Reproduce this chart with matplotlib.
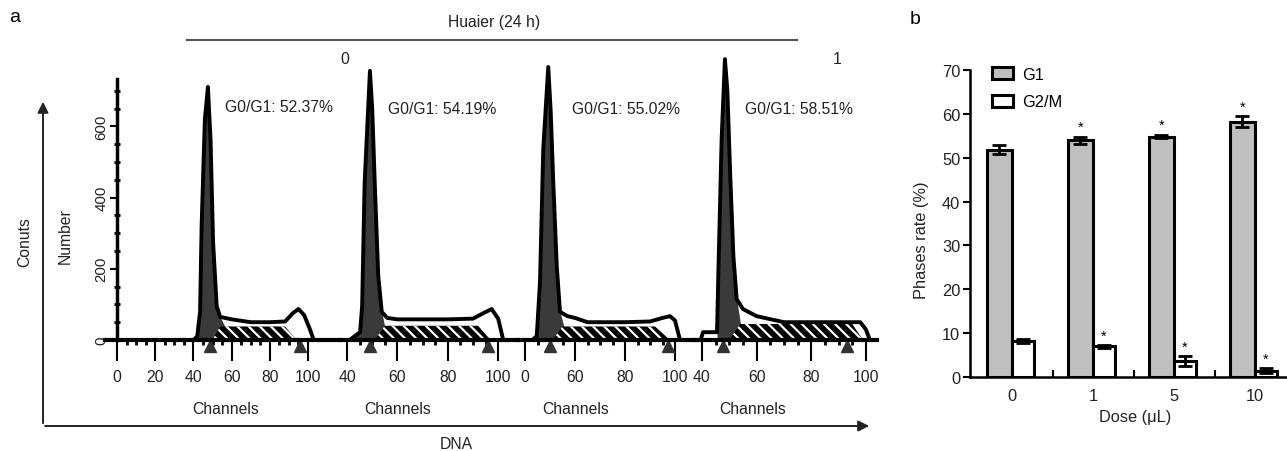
import matplotlib
matplotlib.use('Agg')
import matplotlib.pyplot as plt
import numpy as np

plt.rcParams['font.family'] = ['Liberation Sans', 'DejaVu Sans']
plt.rcParams['hatch.linewidth'] = 1.6

# ---- panel a: DNA histograms (channel, count) ----
hist_channels = [
    [-5, 40, 42, 43.5, 44.3, 46.0, 47.6, 49.0, 50.3, 52.2, 54, 60, 70, 80, 88, 92, 95, 98, 101, 103, 116],
    [37, 41, 45.2, 46.0, 47.0, 49.1, 50.0, 51.1, 52.4, 53.8, 56, 60, 70, 80, 90, 94, 97.4, 100, 102, 108],
    [37, 43, 44.7, 46.0, 47.3, 49.3, 50.3, 51.3, 52.7, 54, 57, 60, 65, 80, 90, 95, 98, 100, 102, 108],
    [37, 39.5, 40.4, 45.5, 46.0, 47.2, 48.4, 49.3, 50.3, 51.5, 52.7, 55, 60, 70, 80, 90, 98, 100, 101.5, 104],
]
hist_counts = [
    [0, 0, 10, 80, 320, 620, 711, 560, 275, 95, 65, 58, 50, 50, 52, 75, 87, 70, 30, 0, 0],
    [0, 0, 22, 95, 443, 756, 650, 424, 180, 79, 62, 58, 58, 58, 60, 75, 87, 60, 0, 0],
    [0, 0, 11, 163, 537, 767, 640, 444, 208, 79, 67, 62, 50, 50, 52, 62, 67, 55, 0, 0],
    [0, 0, 22, 22, 190, 565, 789, 700, 472, 236, 115, 87, 67, 50, 50, 50, 50, 30, 0, 0],
]
# S-phase (hatched) component
s_channels = [
    [50, 54, 88, 94],
    [51, 55, 92, 97],
    [51, 55, 92, 98],
    [50, 54, 95, 99],
]
s_counts = [
    [0, 38, 38, 0],
    [0, 40, 40, 0],
    [0, 38, 38, 0],
    [0, 45, 45, 0],
]
g1_marks = [48.7, 49.1, 50.0, 47.7]
g2_marks = [95.8, 96.0, 97.0, 93.0]
g1_labels = ['G0/G1: 52.37%', 'G0/G1: 54.19%', 'G0/G1: 55.02%', 'G0/G1: 58.51%']
hist_ticks = [[0, 20, 40, 60, 80, 100], [40, 60, 80, 100], [40, 60, 80, 100], [40, 60, 80, 100]]
hist_ticklabels = [['0', '20', '40', '60', '80', '100'], ['40', '60', '80', '100'],
                   ['0', '60', '80', '100'], ['40', '60', '80', '100']]
count_ticks = [0, 200, 400, 600]

# ---- panel b: phase rates ----
doses = ['0', '1', '5', '10']
g1_rate = [51.8, 54.0, 54.8, 58.2]
g1_err = [1.0, 0.8, 0.4, 1.2]
g2_rate = [8.2, 7.0, 3.7, 1.4]
g2_err = [0.5, 0.3, 1.1, 0.6]
g1_star = [False, True, True, True]
g2_star = [False, True, True, True]

W, H = 1287, 452
FS = 11.3
TXT = '#222'
fig = plt.figure(figsize=(W / 100, H / 100), dpi=100)


def px_rect(x0, y0, x1, y1):
    return [x0 / W, 1 - y1 / H, (x1 - x0) / W, (y1 - y0) / H]


# overlay for frame arrows and free text
ov = fig.add_axes([0, 0, 1, 1])
ov.set_xlim(0, W)
ov.set_ylim(H, 0)
ov.axis('off')
ov.set_facecolor('none')
ov.annotate('', xy=(43, 100), xytext=(43, 427),
            arrowprops=dict(arrowstyle='-|>', lw=1.4, color='#222', mutation_scale=16))
ov.annotate('', xy=(872, 427), xytext=(42.3, 427),
            arrowprops=dict(arrowstyle='-|>', lw=1.4, color='#222', mutation_scale=16))
ov.plot([187, 797], [41, 41], color='#555', lw=1.5)
ov.text(15, 18, 'a', fontsize=14, ha='center', va='center')
ov.text(915, 20, 'b', fontsize=14, ha='center', va='center')
ov.text(494, 22, 'Huaier (24 h)', fontsize=FS, ha='center', va='center', color=TXT)
ov.text(345, 60, '0', fontsize=FS, ha='center', va='center', color=TXT)
ov.text(837, 60, '1', fontsize=FS, ha='center', va='center', color=TXT)
ov.text(25, 242, 'Conuts', fontsize=FS, rotation=90, ha='center', va='center', color=TXT)
ov.text(65, 236, 'Number', fontsize=FS, rotation=90, ha='center', va='center', color=TXT)
ov.text(456, 445, 'DNA', fontsize=FS, ha='center', va='center', color=TXT)

# histogram panels: pixel extents and channel limits
panel_px = [(105, 340), (340, 518), (518, 695), (695, 877)]
panel_xlim = [(-6.28, 116.75), (37.22, 107.86), (37.2, 108.0), (37.44, 104.1)]
label_x = [225, 388, 572, 745]
label_y = [108, 110, 110, 110]
channels_x = [226, 398, 576, 753]
Y0, SCALE = 341, 0.356
YMAX = 800

for i in range(4):
    x0, x1 = panel_px[i]
    ax = fig.add_axes(px_rect(x0, Y0 - YMAX * SCALE, x1, Y0))
    ax.set_facecolor('none')
    ch = np.array(hist_channels[i], dtype=float)
    cnt = np.array(hist_counts[i], dtype=float)
    peak = (ch >= 42) & (ch <= 54)
    ax.fill_between(ch, 0, cnt, where=peak, color='#3a3a3a', lw=0, interpolate=True)
    ax.fill_between(s_channels[i], 0, s_counts[i], facecolor='black', edgecolor='white',
                    hatch='\\\\\\', lw=0)
    ax.plot(ch, cnt, color='black', lw=2.8, solid_joinstyle='round', clip_on=False)
    ax.plot([g1_marks[i], g2_marks[i]], [-17, -17], '^', color='#333', ms=9, clip_on=False)
    for s in ['top', 'right']:
        ax.spines[s].set_visible(False)
    ax.spines['bottom'].set_linewidth(3)
    ax.set_xticks(hist_ticks[i])
    ax.set_xticklabels(hist_ticklabels[i], fontsize=FS, color=TXT)
    ax.set_xticks(np.arange(0, 101, 5), minor=True)
    ax.tick_params(axis='x', which='major', direction='out', length=15, width=1.5, pad=6)
    ax.tick_params(axis='x', which='minor', direction='out', length=3.5, width=2)
    if i == 0:
        ax.spines['left'].set_position(('data', 0))
        ax.spines['left'].set_bounds(0, 733)
        ax.spines['left'].set_linewidth(2.5)
        ax.set_yticks(count_ticks)
        ax.set_yticklabels([str(v) for v in count_ticks], fontsize=FS - 0.5, color=TXT,
                           rotation=90, va='center')
        ax.set_yticks(np.arange(0, 733, 50), minor=True)
        ax.tick_params(axis='y', which='major', direction='out', length=5, width=1.5, pad=1)
        ax.tick_params(axis='y', which='minor', direction='inout', length=5, width=2)
    else:
        ax.spines['left'].set_visible(False)
        ax.set_yticks([])
    # limits last, tick setting can widen them
    ax.set_xlim(*panel_xlim[i])
    ax.set_ylim(0, YMAX)
    ov.text(label_x[i], label_y[i], g1_labels[i], fontsize=FS, ha='left', va='center',
            color=TXT)
    ov.text(channels_x[i], 410, 'Channels', fontsize=FS, ha='center', va='center',
            color=TXT)

# ---- panel b ----
bx = fig.add_axes(px_rect(970, 71, 1287, 378))
pos = np.arange(len(doses))
b1 = bx.bar(pos - 0.155, g1_rate, width=0.31, color='#c0c0c0', edgecolor='black',
            linewidth=2.2, label='G1')
b2 = bx.bar(pos + 0.135, g2_rate, width=0.27, color='white', edgecolor='black',
            linewidth=2.2, label='G2/M')
bx.errorbar(pos - 0.155, g1_rate, yerr=g1_err, fmt='none', ecolor='black', elinewidth=2,
            capsize=5, capthick=2)
bx.errorbar(pos + 0.135, g2_rate, yerr=g2_err, fmt='none', ecolor='black', elinewidth=2,
            capsize=5, capthick=2)
for k in range(len(doses)):
    if g1_star[k]:
        bx.text(pos[k] - 0.155, g1_rate[k] + g1_err[k] + 0.6, '*', ha='center', va='bottom',
                fontsize=10.5)
    if g2_star[k]:
        bx.text(pos[k] + 0.135, g2_rate[k] + g2_err[k] + 0.6, '*', ha='center', va='bottom',
                fontsize=10.5)
bx.spines['top'].set_visible(False)
bx.spines['right'].set_visible(False)
bx.spines['left'].set_linewidth(1.8)
bx.spines['bottom'].set_linewidth(1.8)
bx.set_yticks(np.arange(0, 71, 10))
bx.set_xticks(pos)
bx.set_xticklabels(doses)
bx.set_xticks(pos[:-1] + 0.5, minor=True)
bx.set_xlim(-0.519, 3.395)
bx.set_ylim(0, 70)
bx.tick_params(axis='y', direction='out', length=5, width=1.5, labelsize=FS + 0.5, pad=2,
               labelcolor=TXT)
bx.tick_params(axis='x', which='major', length=0, labelsize=FS + 0.5, pad=8, labelcolor=TXT)
bx.tick_params(axis='x', which='minor', direction='in', length=5, width=1.5)
bx.set_ylabel('Phases rate (%)', fontsize=FS + 0.5, color=TXT)
bx.yaxis.set_label_coords(-0.13, 0.45)
bx.set_xlabel('Dose (μL)', fontsize=FS + 0.5, color=TXT)
bx.xaxis.set_label_coords(0.52, -0.105)
bx.legend(loc='upper left', bbox_to_anchor=(0.07, 1.01), frameon=False, fontsize=FS + 0.5,
          handlelength=1.3, handleheight=0.75, handletextpad=0.5, labelspacing=0.75,
          borderpad=0, borderaxespad=0)

fig.savefig('out.png', dpi=100)
